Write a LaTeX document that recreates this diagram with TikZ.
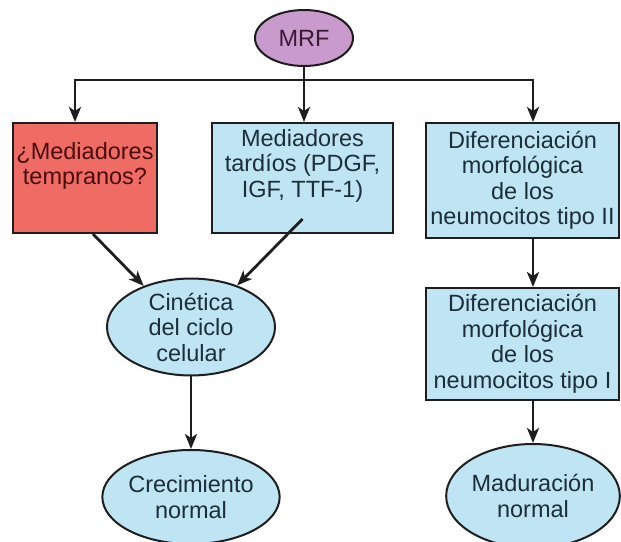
\documentclass[tikz,border=0pt]{standalone}
\usepackage{fontspec}
\setmainfont{Liberation Sans}
\usetikzlibrary{shapes.geometric,arrows.meta}
\definecolor{boxblue}{HTML}{BFE4F3}
\definecolor{boxred}{HTML}{EE6C63}
\definecolor{boxpurple}{HTML}{C89BCC}
\definecolor{txtblue}{HTML}{1C2E3A}
\definecolor{txtred}{HTML}{4A0E0E}
\definecolor{txtpurple}{HTML}{3A1838}
\definecolor{edge}{HTML}{1E1E1E}
\tikzset{
  base/.style={draw=edge, line width=2pt, align=center, inner sep=0pt,
    font=\fontsize{23.5}{25.5}\selectfont, text=txtblue},
  bluebox/.style={base, rectangle, fill=boxblue},
  redbox/.style={base, rectangle, fill=boxred, text=txtred},
  blueell/.style={base, ellipse, fill=boxblue},
  purpell/.style={base, ellipse, fill=boxpurple, text=txtpurple},
  arr/.style={draw=edge, line width=2.8pt, -{Stealth[length=15pt,width=12pt,inset=4pt]}},
  ln/.style={draw=edge, line width=2.8pt}
}
\begin{document}
\begin{tikzpicture}[x=1pt,y=-1pt]
\useasboundingbox (0,0) rectangle (621,541);
\clip (0,0) rectangle (621,541);
\fill[white] (0,0) rectangle (621,541);

\node[purpell, minimum width=98pt, minimum height=56pt] (mrf) at (304,38) {MRF};
\node[redbox, minimum width=144pt, minimum height=110pt] (red) at (85,178) {¿Mediadores\\tempranos?\\[4pt]};
\node[bluebox, minimum width=181pt, minimum height=110pt] (mid) at (302.5,178) {Mediadores\\tardíos (PDGF,\\IGF, TTF-1)\\[4pt]};
\node[bluebox, minimum width=193pt, minimum height=115pt] (r1) at (522.5,180.5) {Diferenciación\\morfológica\\de los\\neumocitos tipo II};
\node[bluebox, minimum width=193pt, minimum height=112pt] (r2) at (522.5,344) {Diferenciación\\morfológica\\de los\\neumocitos tipo I};
\node[blueell, minimum width=168pt, minimum height=90pt] (cin) at (191,327) {Cinética\\del ciclo\\celular};
\node[blueell, minimum width=143pt, minimum height=94pt] (cre) at (191,497) {Crecimiento\\normal};
\node[blueell, minimum width=158pt, minimum height=104pt] (mad) at (533,496) {Maduración\\normal};

\coordinate (jl) at (75,80);
\coordinate (jr) at (533,80);
\coordinate (jm) at (mrf.south |- jl);

\draw[ln] (jl) -- (jr);
\draw[ln] (mrf.south) -- (jm);
\draw[arr] (jm) -- (jm |- mid.north);
\draw[arr] ([yshift=1.4pt]jl) -- (jl |- red.north);
\draw[arr] ([yshift=1.4pt]jr) -- (jr |- r1.north);
\draw[arr] (jr |- r1.south) -- (jr |- r2.north);
\draw[arr] (jr |- r2.south) -- (mad.north);
\draw[arr] ([xshift=8pt]red.south) -- (cin.139);
\draw[arr] ([yshift=15pt]mid.south) -- (cin.42);
\draw[arr] (cin.south) -- (cre.north);
\end{tikzpicture}
\end{document}
